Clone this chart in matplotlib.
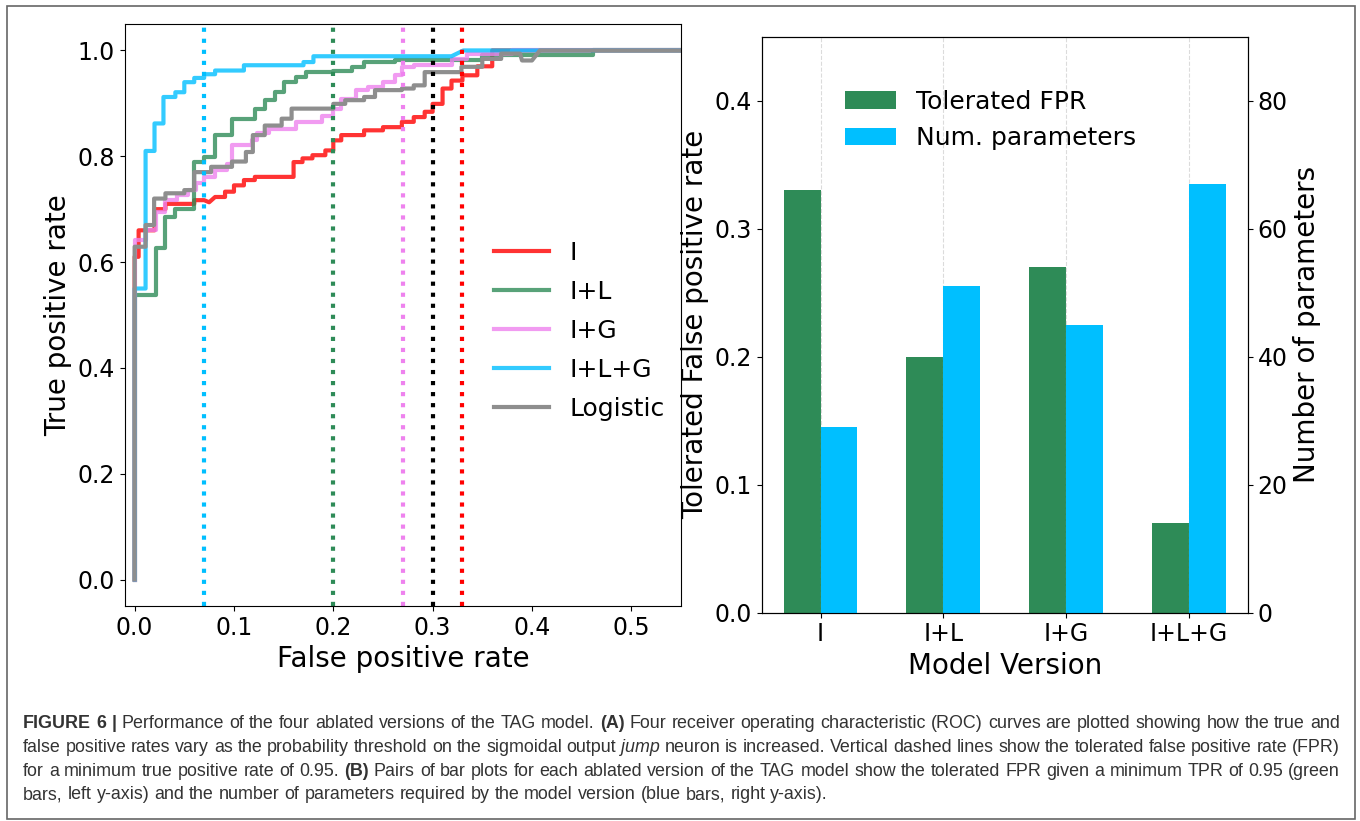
import numpy as np
import matplotlib.pyplot as plt
from matplotlib.patches import Rectangle

plt.rcParams['font.family'] = 'DejaVu Sans'

# ROC curves (false positive rate, true positive rate)
fpr_i = [0, 0, 0.004, 0.004, 0.02, 0.02, 0.031, 0.031, 0.06, 0.06, 0.07, 0.075, 0.081, 0.091,
         0.091, 0.1, 0.1, 0.11, 0.11, 0.121, 0.121, 0.16, 0.16, 0.169, 0.169, 0.179, 0.179,
         0.192, 0.192, 0.2, 0.2, 0.208, 0.208, 0.231, 0.231, 0.25, 0.25, 0.269, 0.269, 0.281,
         0.281, 0.292, 0.292, 0.3, 0.3, 0.31, 0.31, 0.319, 0.319, 0.33, 0.33, 0.345, 0.345,
         0.36, 0.36, 1.0]
tpr_i = [0, 0.61, 0.61, 0.66, 0.66, 0.70, 0.70, 0.71, 0.71, 0.717, 0.717, 0.713, 0.723, 0.723,
         0.733, 0.733, 0.745, 0.745, 0.755, 0.755, 0.761, 0.761, 0.789, 0.789, 0.796, 0.796,
         0.802, 0.802, 0.811, 0.811, 0.83, 0.83, 0.84, 0.84, 0.849, 0.849, 0.855, 0.855, 0.865,
         0.865, 0.874, 0.874, 0.884, 0.884, 0.899, 0.899, 0.928, 0.928, 0.943, 0.943, 0.953,
         0.953, 0.97, 0.97, 1.0, 1.0]

fpr_il = [0, 0, 0.021, 0.021, 0.031, 0.031, 0.041, 0.041, 0.06, 0.06, 0.0695, 0.0695, 0.081,
          0.081, 0.098, 0.098, 0.121, 0.121, 0.131, 0.131, 0.141, 0.141, 0.15, 0.15, 0.162,
          0.162, 0.173, 0.173, 0.2, 0.2, 0.219, 0.219, 0.231, 0.231, 0.262, 0.262, 0.35, 0.35,
          0.461, 0.461, 1.0]
tpr_il = [0, 0.538, 0.538, 0.626, 0.626, 0.686, 0.686, 0.701, 0.701, 0.789, 0.789, 0.799,
          0.799, 0.84, 0.84, 0.871, 0.871, 0.89, 0.89, 0.906, 0.906, 0.921, 0.921, 0.94, 0.94,
          0.95, 0.95, 0.959, 0.959, 0.962, 0.962, 0.969, 0.969, 0.978, 0.978, 0.981, 0.981,
          0.991, 0.991, 1.0, 1.0]

fpr_ig = [0, 0, 0.011, 0.011, 0.0215, 0.0215, 0.031, 0.031, 0.043, 0.043, 0.054, 0.054, 0.062,
          0.062, 0.0695, 0.0695, 0.081, 0.081, 0.0926, 0.0926, 0.098, 0.098, 0.118, 0.118,
          0.123, 0.123, 0.135, 0.135, 0.162, 0.162, 0.189, 0.189, 0.2, 0.2, 0.208, 0.208,
          0.223, 0.223, 0.235, 0.235, 0.25, 0.25, 0.262, 0.262, 0.269, 0.269, 0.281, 0.281,
          0.319, 0.319, 0.335, 0.335, 0.38, 0.38, 1.0]
tpr_ig = [0, 0.641, 0.641, 0.66, 0.66, 0.695, 0.695, 0.717, 0.717, 0.727, 0.727, 0.736, 0.736,
          0.75, 0.75, 0.761, 0.761, 0.774, 0.774, 0.786, 0.786, 0.821, 0.821, 0.83, 0.83,
          0.843, 0.843, 0.852, 0.852, 0.865, 0.865, 0.877, 0.877, 0.89, 0.89, 0.909, 0.909,
          0.925, 0.925, 0.931, 0.931, 0.94, 0.94, 0.953, 0.953, 0.969, 0.969, 0.972, 0.972,
          0.984, 0.984, 0.994, 0.994, 1.0, 1.0]

fpr_ilg = [0, 0, 0.011, 0.011, 0.02, 0.02, 0.029, 0.029, 0.041, 0.041, 0.05, 0.05, 0.06, 0.06,
           0.07, 0.07, 0.081, 0.081, 0.11, 0.11, 0.17, 0.17, 0.18, 0.18, 0.319, 0.331, 1.0]
tpr_ilg = [0, 0.55, 0.55, 0.81, 0.81, 0.862, 0.862, 0.912, 0.912, 0.921, 0.921, 0.94, 0.94,
           0.948, 0.948, 0.955, 0.955, 0.962, 0.962, 0.972, 0.972, 0.978, 0.978, 0.989, 0.989,
           1.0, 1.0]

fpr_log = [0, 0, 0.011, 0.011, 0.0196, 0.0196, 0.031, 0.031, 0.05, 0.05, 0.06, 0.06, 0.077,
           0.077, 0.098, 0.098, 0.112, 0.112, 0.119, 0.119, 0.131, 0.131, 0.148, 0.148, 0.158,
           0.158, 0.2, 0.2, 0.212, 0.212, 0.231, 0.231, 0.242, 0.242, 0.269, 0.269, 0.281,
           0.281, 0.292, 0.292, 0.329, 0.329, 0.35, 0.35, 0.369, 0.369, 0.388, 0.39, 0.4,
           0.408, 1.0]
tpr_log = [0, 0.629, 0.629, 0.67, 0.67, 0.72, 0.72, 0.73, 0.73, 0.736, 0.736, 0.77, 0.77, 0.78,
           0.78, 0.79, 0.79, 0.808, 0.808, 0.84, 0.84, 0.858, 0.858, 0.871, 0.871, 0.89, 0.89,
           0.899, 0.899, 0.906, 0.906, 0.912, 0.912, 0.925, 0.925, 0.928, 0.928, 0.934, 0.934,
           0.959, 0.959, 0.969, 0.969, 0.984, 0.984, 0.994, 0.994, 0.981, 0.981, 1.0, 1.0]

roc_labels = ['I', 'I+L', 'I+G', 'I+L+G', 'Logistic']
roc_colors = ['red', 'seagreen', 'violet', 'deepskyblue', '#8e8e8e']
roc_alpha = [0.8, 0.8, 0.8, 0.8, 1.0]

# tolerated FPR at TPR >= 0.95 (dotted lines)
thr_values = [0.07, 0.20, 0.27, 0.30, 0.33]
thr_colors = ['deepskyblue', 'seagreen', 'violet', 'black', 'red']

# bar panel
models = ['I', 'I+L', 'I+G', 'I+L+G']
tolerated_fpr = [0.33, 0.20, 0.27, 0.07]
num_params = [29, 51, 45, 67]

fig = plt.figure(figsize=(13.6, 8.21), dpi=100)

# ---- panel A: ROC curves
ax1 = fig.add_axes([0.0917, 0.2619, 0.4090, 0.7089])
curves = [(fpr_i, tpr_i), (fpr_il, tpr_il), (fpr_ig, tpr_ig), (fpr_ilg, tpr_ilg), (fpr_log, tpr_log)]
for (f, t), c, a, lab in zip(curves, roc_colors, roc_alpha, roc_labels):
    ax1.plot(f, t, color=c, lw=3, alpha=a, label=lab)
for x, c in zip(thr_values, thr_colors):
    ax1.axvline(x, color=c, ls=':', lw=3)
ax1.set_xlim(-0.01, 0.55)
ax1.set_ylim(-0.05, 1.05)
ax1.set_xticks(np.arange(0, 0.51, 0.1))
ax1.tick_params(labelsize=17)
ax1.set_xlabel('False positive rate', fontsize=20)
ax1.set_ylabel('True positive rate', fontsize=20)
ax1.legend(loc='center left', bbox_to_anchor=(0.664, 0.4725), frameon=False, fontsize=18,
           borderpad=0, borderaxespad=0, handlelength=2.2, labelspacing=0.6)

# ---- panel B: bars with twin axis
ax2 = fig.add_axes([0.560, 0.2537, 0.3574, 0.7016])
x = np.arange(len(models))
w = 0.3
b1 = ax2.bar(x - w / 2, tolerated_fpr, w, color='seagreen', label='Tolerated FPR')
ax2.set_ylim(0, 0.45)
ax2.set_yticks([0.0, 0.1, 0.2, 0.3, 0.4])
ax2.set_xticks(x, models)
ax2.grid(axis='x', ls='--', color='lightgray', alpha=0.8)
ax2.tick_params(labelsize=17)
ax2.set_xlabel('Model Version', fontsize=20)
ax2.set_ylabel('Tolerated False positive rate', fontsize=20)

ax3 = ax2.twinx()
b2 = ax3.bar(x + w / 2, num_params, w, color='deepskyblue', label='Num. parameters')
ax3.set_ylim(0, 90)
ax3.set_yticks([0, 20, 40, 60, 80])
ax3.tick_params(labelsize=17)
ax3.set_ylabel('Number of parameters', fontsize=20)
ax3.legend([b1, b2], ['Tolerated FPR', 'Num. parameters'], loc='center left',
           bbox_to_anchor=(0.171, 0.855), frameon=False, fontsize=18, borderpad=0,
           borderaxespad=0, handlelength=2.05)

# ---- frame around figure + caption
fig.patches.append(Rectangle((7 / 1360, 2 / 821), 1348 / 1360, 813 / 821, transform=fig.transFigure,
                             fill=False, edgecolor='#666666', lw=1.2))

cap_family = ['Liberation Sans', 'DejaVu Sans']
cap_color = '#333333'
caption_lines = [
    [('FIGURE 6 |', 'bold', 'normal'),
     ('Performance of the four ablated versions of the TAG model.', 'normal', 'normal'),
     ('(A)', 'bold', 'normal'),
     ('Four receiver operating characteristic (ROC) curves are plotted showing how the true and',
      'normal', 'normal')],
    [('false positive rates vary as the probability threshold on the sigmoidal output', 'normal', 'normal'),
     ('jump', 'normal', 'italic'),
     ('neuron is increased. Vertical dashed lines show the tolerated false positive rate (FPR)',
      'normal', 'normal')],
    [('for a minimum true positive rate of 0.95.', 'normal', 'normal'),
     ('(B)', 'bold', 'normal'),
     ('Pairs of bar plots for each ablated version of the TAG model show the tolerated FPR given a minimum TPR of 0.95 (green',
      'normal', 'normal')],
    [('bars, left y-axis) and the number of parameters required by the model version (blue bars, right y-axis).',
      'normal', 'normal')],
]
justified = [True, True, True, False]
baselines = [728, 752, 775.5, 799]
cap_left, cap_right = 23, 1340

renderer = fig.canvas.get_renderer()


def text_width(s, weight, style, size):
    t = fig.text(0, 0, s, fontsize=size, fontweight=weight, fontstyle=style, family=cap_family)
    wd = t.get_window_extent(renderer).width
    t.remove()
    return wd


def words_of(line):
    out = []
    for s, weight, style in line:
        for wd in s.split(' '):
            if wd:
                out.append((wd, weight, style))
    return out


def natural_width(line, size):
    ws = words_of(line)
    sp = text_width('a a', 'normal', 'normal', size) - text_width('aa', 'normal', 'normal', size)
    return sum(text_width(*wd, size) for wd in ws) + sp * (len(ws) - 1)


# font size so the longest line fits the caption width
cap_size = 11.0 * (cap_right - cap_left) / max(natural_width(l, 11.0) for l in caption_lines)
space_w = text_width('a a', 'normal', 'normal', cap_size) - text_width('aa', 'normal', 'normal', cap_size)

for line, yb, just in zip(caption_lines, baselines, justified):
    ws = words_of(line)
    widths = [text_width(*wd, cap_size) for wd in ws]
    gap = space_w
    if just:
        gap = (cap_right - cap_left - sum(widths)) / (len(ws) - 1)
    xp = cap_left
    for (wd, weight, style), wdw in zip(ws, widths):
        fig.text(xp / 1360, 1 - yb / 821, wd, fontsize=cap_size, fontweight=weight,
                 fontstyle=style, family=cap_family, color=cap_color, va='baseline')
        xp += wdw + gap

fig.savefig('out.png', dpi=100)
